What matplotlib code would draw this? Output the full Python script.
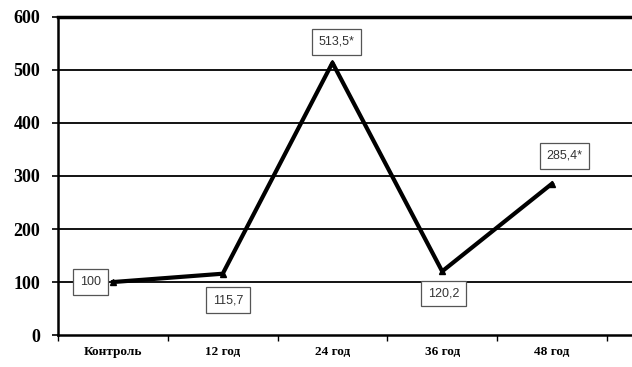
import matplotlib.pyplot as plt
import numpy as np

# data
categories = ['Контроль', '12 год', '24 год', '36 год', '48 год']
values = [100, 115.7, 513.5, 120.2, 285.4]
labels = ['100', '115,7', '513,5*', '120,2', '285,4*']
yticks = [0, 100, 200, 300, 400, 500, 600]

fig = plt.figure(figsize=(6.32, 3.67), dpi=100)
ax = fig.add_axes([0.092, 0.087, 0.908, 0.867])

x = np.arange(len(categories))
ax.plot(x, values, color='black', lw=3, marker='^', ms=4, zorder=3)

# gridlines
for v in yticks[1:-1]:
    ax.axhline(v, color='black', lw=1.3, zorder=1)

ax.set_ylim(0, 600)
ax.set_xlim(-0.5, 4.73)
ax.set_yticks(yticks)
ax.set_yticklabels([str(v) for v in yticks], fontfamily='Liberation Serif',
                   fontweight='bold', fontsize=13)
ax.set_xticks(x)
ax.set_xticklabels(categories, fontfamily='Liberation Serif', fontweight='bold',
                   fontsize=9.5)
ax.set_xticks(np.arange(-0.5, 5, 1), minor=True)
ax.tick_params(axis='x', which='major', length=0, pad=8)
ax.tick_params(axis='x', which='minor', length=4, direction='out', width=1)
ax.tick_params(axis='y', length=4, width=1.2, pad=9)

ax.spines['right'].set_visible(False)
ax.spines['top'].set_linewidth(2.5)
ax.spines['left'].set_linewidth(1.8)
ax.spines['bottom'].set_linewidth(1.8)

# data labels in boxes (offsets in points)
offsets = [(-16, 0), (4, -19), (3, 15), (1, -16), (9, 20)]
for xi, v, lab, (dx, dy) in zip(x, values, labels, offsets):
    ax.annotate(lab, (xi, v), xytext=(dx, dy), textcoords='offset points',
                ha='center', va='center', fontsize=9, color='#333333',
                fontfamily='Liberation Sans',
                bbox=dict(boxstyle='square,pad=0.55', fc='white', ec='#555555', lw=0.9),
                zorder=4)

fig.savefig('out.png', dpi=100)
